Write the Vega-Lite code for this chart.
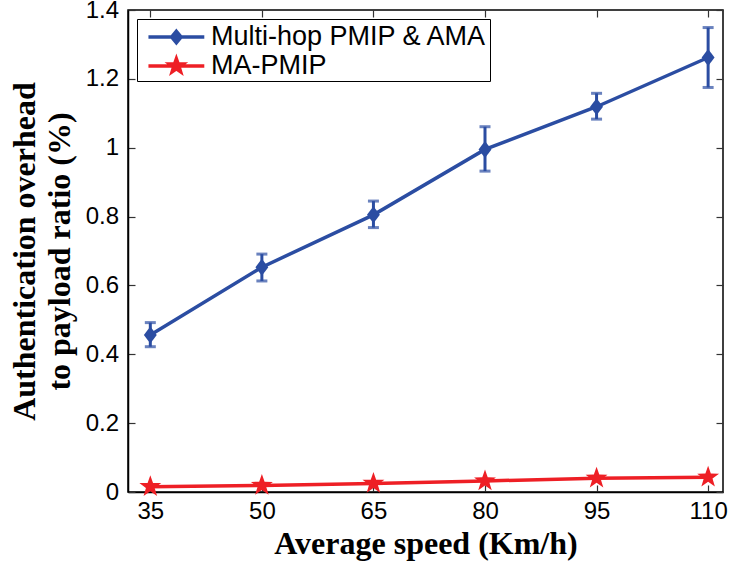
{
  "$schema": "https://vega.github.io/schema/vega-lite/v6.json",
  "width": 595,
  "height": 482,
  "autosize": "none",
  "padding": {"left": 128, "top": 10, "right": 9, "bottom": 73},
  "background": "white",
  "config": {
    "view": {"stroke": "black", "strokeWidth": 1.5},
    "axis": {
      "domainColor": "black", "domainWidth": 1.5, "tickColor": "#333", "tickWidth": 1.2,
      "tickSize": -7, "grid": false, "labelFont": "Liberation Sans", "labelFontSize": 24,
      "labelColor": "black", "titleFont": "Liberation Serif", "titleFontWeight": "bold",
      "titleFontSize": 32, "titleColor": "black"
    }
  },
  "data": {
    "values": [
      {"series": "Multi-hop PMIP & AMA", "speed": 35, "value": 0.456, "lo": 0.422, "hi": 0.492},
      {"series": "Multi-hop PMIP & AMA", "speed": 50, "value": 0.653, "lo": 0.613, "hi": 0.691},
      {"series": "Multi-hop PMIP & AMA", "speed": 65, "value": 0.805, "lo": 0.768, "hi": 0.845},
      {"series": "Multi-hop PMIP & AMA", "speed": 80, "value": 0.995, "lo": 0.932, "hi": 1.061},
      {"series": "Multi-hop PMIP & AMA", "speed": 95, "value": 1.119, "lo": 1.083, "hi": 1.158},
      {"series": "Multi-hop PMIP & AMA", "speed": 110, "value": 1.262, "lo": 1.175, "hi": 1.349},
      {"series": "MA-PMIP", "speed": 35, "value": 0.0155},
      {"series": "MA-PMIP", "speed": 50, "value": 0.019},
      {"series": "MA-PMIP", "speed": 65, "value": 0.025},
      {"series": "MA-PMIP", "speed": 80, "value": 0.032},
      {"series": "MA-PMIP", "speed": 95, "value": 0.040},
      {"series": "MA-PMIP", "speed": 110, "value": 0.043}
    ]
  },
  "resolve": {"axis": {"x": "independent", "y": "independent"}},
  "layer": [
    {
      "transform": [{"filter": "datum.lo != null"}],
      "mark": {"type": "rule", "color": "#2B4DA2", "strokeWidth": 3},
      "encoding": {
        "x": {"field": "speed", "type": "quantitative", "scale": {"domain": [32, 112], "nice": false},
              "axis": {"orient": "bottom", "values": [35, 50, 65, 80, 95, 110], "title": "Average speed (Km/h)", "labelPadding": 14.5, "titlePadding": 5}},
        "y": {"field": "lo", "type": "quantitative", "scale": {"domain": [0, 1.4], "nice": false},
              "axis": {"orient": "left", "values": [0, 0.2, 0.4, 0.6, 0.8, 1, 1.2, 1.4], "format": "~g", "title": ["Authentication overhead", "to payload ratio (%)"], "labelPadding": 16.5, "titlePadding": 9, "titleLineHeight": 35}},
        "y2": {"field": "hi"}
      }
    },
    {
      "transform": [{"filter": "datum.lo != null"}],
      "mark": {"type": "tick", "orient": "horizontal", "color": "#2B4DA2", "size": 11, "thickness": 3},
      "encoding": {
        "x": {"field": "speed", "type": "quantitative", "axis": null},
        "y": {"field": "lo", "type": "quantitative", "axis": null}
      }
    },
    {
      "transform": [{"filter": "datum.lo != null"}],
      "mark": {"type": "tick", "orient": "horizontal", "color": "#2B4DA2", "size": 11, "thickness": 3},
      "encoding": {
        "x": {"field": "speed", "type": "quantitative", "axis": null},
        "y": {"field": "hi", "type": "quantitative", "axis": null}
      }
    },
    {
      "mark": {"type": "line", "strokeWidth": 3.5},
      "encoding": {
        "x": {"field": "speed", "type": "quantitative",
              "axis": {"orient": "top", "values": [35, 50, 65, 80, 95, 110], "labels": false, "title": null, "domain": false}},
        "y": {"field": "value", "type": "quantitative",
              "axis": {"orient": "right", "values": [0, 0.2, 0.4, 0.6, 0.8, 1, 1.2, 1.4], "labels": false, "title": null, "domain": false}},
        "color": {
          "field": "series", "type": "nominal",
          "scale": {"domain": ["Multi-hop PMIP & AMA", "MA-PMIP"], "range": ["#2B4DA2", "#EE1F25"]},
          "legend": {
            "orient": "none", "legendX": 9, "legendY": 9, "title": null,
            "strokeColor": "black", "fillColor": "white", "padding": 2, "rowPadding": 0,
            "symbolSize": 812, "symbolStrokeWidth": 3.5,
            "labelFont": "Liberation Sans", "labelFontSize": 27, "labelColor": "black", "labelOffset": 40, "labelLimit": 400,
            "encode": {
              "symbols": {
                "update": {
                  "shape": {"signal": "datum.value === 'MA-PMIP' ? 'M-0.46,0L3.46,0M1.5,-0.5L1.6176,-0.1618L1.9756,-0.1545L1.6902,0.0618L1.7939,0.4045L1.5,0.2L1.2061,0.4045L1.3098,0.0618L1.0245,-0.1545L1.3825,-0.1618Z' : 'M-0.46,0L3.46,0M1.5,-0.4L1.83,0L1.5,0.4L1.17,0Z'"},
                  "fill": {"signal": "datum.value === 'MA-PMIP' ? '#EE1F25' : '#2B4DA2'"},
                  "stroke": {"signal": "datum.value === 'MA-PMIP' ? '#EE1F25' : '#2B4DA2'"},
                  "strokeWidth": {"value": 3.5},
                  "size": {"value": 812},
                  "opacity": {"value": 1}
                }
              }
            }
          }
        }
      }
    },
    {
      "transform": [{"filter": "datum.series === 'Multi-hop PMIP & AMA'"}],
      "mark": {"type": "point", "filled": true, "opacity": 1, "color": "#2B4DA2", "size": 289, "shape": "M0,-1L0.76,0L0,1L-0.76,0Z"},
      "encoding": {
        "x": {"field": "speed", "type": "quantitative", "axis": null},
        "y": {"field": "value", "type": "quantitative", "axis": null}
      }
    },
    {
      "transform": [{"filter": "datum.series === 'MA-PMIP'"}],
      "mark": {"type": "point", "filled": true, "opacity": 1, "color": "#EE1F25", "size": 529, "shape": "M0,-1L0.2351,-0.3236L0.9511,-0.309L0.3804,0.1236L0.5878,0.809L0,0.4L-0.5878,0.809L-0.3804,0.1236L-0.9511,-0.309L-0.2351,-0.3236Z"},
      "encoding": {
        "x": {"field": "speed", "type": "quantitative", "axis": null},
        "y": {"field": "value", "type": "quantitative", "axis": null}
      }
    }
  ]
}
